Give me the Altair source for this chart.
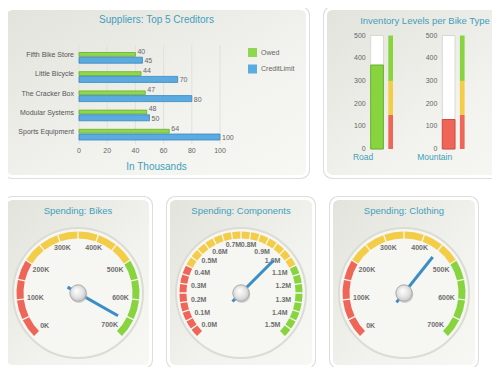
import altair as alt
import numpy as np
import pandas as pd

# ---------------- data ----------------
suppliers = ["Fifth Bike Store", "Little Bicycle", "The Cracker Box", "Modular Systems", "Sports Equipment"]
owed = [40, 44, 47, 48, 64]
credit_limit = [45, 70, 80, 50, 100]
supplier_ticks = [0, 20, 40, 60, 80, 100]

bike_types = ["Road", "Mountain", "Touring"]
inventory = [370, 130, 240]
inventory_bounds = [0, 150, 300, 500]
inventory_ticks = [0, 100, 200, 300, 400, 500]

bikes_ticks = [0, 100, 200, 300, 400, 500, 600, 700]
bikes_labels = ["0K", "100K", "200K", "300K", "400K", "500K", "600K", "700K"]
bikes_bounds = [0, 200, 500, 700]
bikes_value = 660

comp_ticks = [0.0, 0.1, 0.2, 0.3, 0.4, 0.5, 0.6, 0.7, 0.8, 0.9, 1.0, 1.1, 1.2, 1.3, 1.4, 1.5]
comp_labels = ["0.0M", "0.1M", "0.2M", "0.3M", "0.4M", "0.5M", "0.6M", "0.7M",
               "0.8M", "0.9M", "1.0M", "1.1M", "1.2M", "1.3M", "1.4M", "1.5M"]
comp_bounds = [0.0, 0.4, 1.1, 1.5]
comp_value = 1.0

cloth_ticks = [0, 100, 200, 300, 400, 500, 600, 700]
cloth_labels = ["0K", "100K", "200K", "300K", "400K", "500K", "600K", "700K"]
cloth_bounds = [0, 200, 500, 700]
cloth_value = 450

# ---------------- style ----------------
FONT = "Liberation Sans"
TEAL = "#3f9fbb"
TXT = "#666666"
RED, YEL, GRN = "#ef6658", "#f4cd48", "#88d43e"
STATUS = ["low", "mid", "high"]
VIEW_W, VIEW_H = 484, 359   # page is 500x375 with an 8px margin

one = pd.DataFrame({"k": [0]})


def panel_bg(ox, oy, w, h):
    shadow = alt.Chart(one).mark_rect(cornerRadius=9, color="#dedede").encode(
        x=alt.value(ox - 1), x2=alt.value(ox + w + 1), y=alt.value(oy - 1), y2=alt.value(oy + h + 1))
    body = alt.Chart(one).mark_rect(
        cornerRadius=7,
        fill=alt.LinearGradient(
            gradient="linear",
            stops=[alt.GradientStop(color="#e3e3dd", offset=0),
                   alt.GradientStop(color="#f2f2ee", offset=0.6),
                   alt.GradientStop(color="#f7f7f3", offset=1)],
            x1=0, y1=0, x2=1, y2=1),
        stroke="white", strokeWidth=3).encode(
        x=alt.value(ox + 1.5), x2=alt.value(ox + w - 1.5),
        y=alt.value(oy + 1.5), y2=alt.value(oy + h - 1.5))
    return [shadow, body]


def title_text(txt, x, y, size=9.5):
    return alt.Chart(one).mark_text(font=FONT, fontSize=size, color=TEAL, baseline="middle").encode(
        x=alt.value(x), y=alt.value(y), text=alt.value(txt))


# ---------------- suppliers panel ----------------
def suppliers_panel(ox, oy, W=305, H=171):
    sup_df = pd.DataFrame({
        "supplier": suppliers * 2,
        "series": ["Owed"] * len(suppliers) + ["CreditLimit"] * len(suppliers),
        "value": owed + credit_limit,
    })
    tick_df = pd.DataFrame({"t": supplier_ticks})
    xs = alt.Scale(domain=[0, 100], range=[ox + 75, ox + 216], nice=False, zero=False)
    ys = alt.Scale(domain=suppliers, range=[oy + 40, oy + 136], paddingInner=0, paddingOuter=0)
    col = alt.Scale(domain=["Owed", "CreditLimit"], range=["#8fd84e", "#5aabe1"])
    leg = alt.Legend(orient="none", legendX=ox + 244, legendY=oy + 41, title=None, symbolType="square",
                     symbolSize=81, symbolStrokeWidth=0, labelFontSize=7, labelColor=TXT,
                     labelFont=FONT, rowPadding=7.5, labelOffset=4)
    X = alt.X("value:Q", scale=xs, axis=None)
    Y = alt.Y("supplier:N", scale=ys, axis=None)

    grid = alt.Chart(tick_df).mark_rule(color="#e1e1dc", strokeWidth=1).encode(
        x=alt.X("t:Q", scale=xs, axis=None), y=alt.value(oy + 38), y2=alt.value(oy + 137))
    tick_lbl = alt.Chart(tick_df).mark_text(font=FONT, fontSize=7, color=TXT, baseline="middle").encode(
        x=alt.X("t:Q", scale=xs, axis=None), y=alt.value(oy + 144), text="t:Q")
    cat_lbl = alt.Chart(pd.DataFrame({"supplier": suppliers})).mark_text(
        font=FONT, fontSize=7, color="#555555", align="right", baseline="middle", dy=-1.5).encode(
        x=alt.value(ox + 70), y=Y, text="supplier:N")
    bars_owed = alt.Chart(sup_df).transform_filter("datum.series == 'Owed'").mark_bar(
        size=3.8, yOffset=-2.2, stroke="#66ad2c", strokeWidth=0.8).encode(
        x=X, y=Y, color=alt.Color("series:N", scale=col, legend=leg))
    bars_limit = alt.Chart(sup_df).transform_filter("datum.series == 'CreditLimit'").mark_bar(
        size=6, yOffset=3.6, stroke="#3a85bd", strokeWidth=0.8).encode(
        x=X, y=Y, color=alt.Color("series:N", scale=col, legend=leg))
    lbl_owed = alt.Chart(sup_df).transform_filter("datum.series == 'Owed'").mark_text(
        font=FONT, fontSize=7, color=TXT, align="left", baseline="middle", dx=2, dy=-4.8).encode(
        x=X, y=Y, text="value:Q")
    lbl_limit = alt.Chart(sup_df).transform_filter("datum.series == 'CreditLimit'").mark_text(
        font=FONT, fontSize=7, color=TXT, align="left", baseline="middle", dx=2, dy=4.5).encode(
        x=X, y=Y, text="value:Q")
    return alt.layer(
        *panel_bg(ox, oy, W, H), grid, tick_lbl, cat_lbl, bars_owed, bars_limit, lbl_owed, lbl_limit,
        title_text("Suppliers: Top 5 Creditors", ox + W / 2, oy + 12.5, 10),
        title_text("In Thousands", ox + W / 2, oy + 159.5, 10),
    )


# ---------------- inventory panel ----------------
def inventory_panel(ox, oy, W=220, H=171):
    b0, b1, b2, b3 = inventory_bounds
    status_expr = f"datum.value < {b1} ? 'low' : (datum.value < {b2} ? 'mid' : 'high')"
    inv_df = pd.DataFrame({"bike": bike_types, "value": inventory})
    frame_df = pd.DataFrame({"bike": bike_types, "lo": [b0] * 3, "hi": [b3] * 3})
    rng_df = pd.DataFrame({
        "bike": [b for b in bike_types for _ in range(3)],
        "lo": [b0, b1, b2] * 3, "hi": [b1, b2, b3] * 3, "status": STATUS * 3})
    axis_df = pd.DataFrame({
        "bike": [b for b in bike_types for _ in inventory_ticks],
        "t": inventory_ticks * len(bike_types)})
    xb = alt.Scale(domain=bike_types, range=[ox + 17.25, ox + 232.05], paddingInner=0, paddingOuter=0)
    yi = alt.Scale(domain=[0, 500], range=[oy + 142, oy + 28.5], nice=False, zero=False)
    cs = alt.Scale(domain=STATUS, range=[RED, YEL, GRN])
    cs_dark = alt.Scale(domain=STATUS, range=["#cf4c40", "#d6ad2c", "#67b02e"])
    X = alt.X("bike:N", scale=xb, axis=None)

    frame = alt.Chart(frame_df).mark_bar(size=12.7, fill="white", stroke="#d9d9d4", strokeWidth=1).encode(
        x=X, y=alt.Y("hi:Q", scale=yi, axis=None), y2="lo:Q")
    fill_bar = alt.Chart(inv_df).transform_calculate(status=status_expr).mark_bar(
        size=12.7, strokeWidth=1).encode(
        x=X, y=alt.Y("value:Q", scale=yi, axis=None),
        color=alt.Color("status:N", scale=cs, legend=None),
        stroke=alt.Stroke("status:N", scale=cs_dark, legend=None))
    ranges_bar = alt.Chart(rng_df).mark_bar(size=4.7, xOffset=13.6).encode(
        x=X, y=alt.Y("hi:Q", scale=yi, axis=None), y2="lo:Q",
        color=alt.Color("status:N", scale=cs, legend=None))
    inv_axis = alt.Chart(axis_df).mark_text(font=FONT, fontSize=7, color=TXT, align="right",
                                             baseline="middle", dx=-11.3).encode(
        x=X, y=alt.Y("t:Q", scale=yi, axis=None), text="t:Q")
    inv_names = alt.Chart(inv_df).mark_text(font=FONT, fontSize=8.5, color=TEAL,
                                             baseline="middle", dx=-14).encode(
        x=X, y=alt.value(oy + 150), text="bike:N")
    return alt.layer(
        *panel_bg(ox, oy, W, H), frame, fill_bar, ranges_bar, inv_axis, inv_names,
        # title kept fully inside the visible page
        title_text("Inventory Levels per Bike Type", ox + W / 2 - 9, oy + 14),
    )


# ---------------- gauges ----------------
GW, GH, GCX, GCY = 148, 171, 74, 96


def gauge(ox, oy, title, ticks, labels, bounds, value, step):
    maxv = ticks[-1]
    cs = alt.Scale(domain=STATUS, range=[RED, YEL, GRN])
    xs = alt.Scale(domain=[-GCX, GW - GCX], range=[ox, ox + GW], nice=False, zero=False)
    ys = alt.Scale(domain=[GCY - GH, GCY], range=[oy + GH, oy], nice=False, zero=False)
    th = alt.Scale(domain=[0, maxv], range=[-3 * np.pi / 4, 3 * np.pi / 4], nice=False, zero=False)
    X = lambda f: alt.X(f, scale=xs, axis=None)
    Y = lambda f: alt.Y(f, scale=ys, axis=None)

    n = int(round(maxv / step))
    starts = [round(i * step, 6) for i in range(n)]
    ends = [round((i + 1) * step, 6) for i in range(n)]
    status = [STATUS[0] if s < bounds[1] - 1e-9 else (STATUS[1] if s < bounds[2] - 1e-9 else STATUS[2])
              for s in starts]
    seg_df = pd.DataFrame({"start": starts, "end": ends, "status": status})
    lab_df = pd.DataFrame({"v": ticks, "label": labels})
    val_df = pd.DataFrame({"v": [value]})
    ang = f"(-135 + 270 * datum.v / {maxv}) * PI / 180"

    face = alt.Chart(one).transform_calculate(cx="0", cy="0").mark_arc(
        radius=65, theta=0, theta2=2 * np.pi, fill="#f6f6f2", stroke="#dcdcd6", strokeWidth=2).encode(
        x=X("cx:Q"), y=Y("cy:Q"))
    band = alt.Chart(seg_df).transform_calculate(cx="0", cy="0").mark_arc(
        radius=61.5, radius2=54.5, padAngle=0.016).encode(
        theta=alt.Theta("start:Q", scale=th, stack=None), theta2="end:Q",
        color=alt.Color("status:N", scale=cs, legend=None),
        x=X("cx:Q"), y=Y("cy:Q"))
    lab = alt.Chart(lab_df).transform_calculate(
        a=ang, w="4.2 * length(datum.label)",
        r="49.5 - 0.8 * abs(sin(datum.a)) * datum.w / 2",
        lx="datum.r * sin(datum.a)", ly="datum.r * cos(datum.a)").mark_text(
        font=FONT, fontSize=7, fontWeight="bold", color="#6e6e6e", baseline="middle").encode(
        x=X("lx:Q"), y=Y("ly:Q"), text="label:N")
    needle = alt.Chart(val_df).transform_calculate(
        a=ang, tx="46 * sin(datum.a)", ty="46 * cos(datum.a)",
        bx="-12 * sin(datum.a)", by="-12 * cos(datum.a)").mark_rule(
        strokeWidth=3, color="#3b8dc8").encode(
        x=X("bx:Q"), y=Y("by:Q"), x2="tx:Q", y2="ty:Q")
    cap_shadow = alt.Chart(one).transform_calculate(cx="0.8", cy="-1.6").mark_circle(
        size=290, color="#b4b4b0", opacity=0.6).encode(x=X("cx:Q"), y=Y("cy:Q"))
    cap = alt.Chart(one).transform_calculate(cx="0", cy="0").mark_circle(
        size=272, opacity=1, stroke="#a2a2a2", strokeWidth=0.8,
        fill=alt.RadialGradient(
            gradient="radial",
            stops=[alt.GradientStop(color="#ffffff", offset=0),
                   alt.GradientStop(color="#e4e4e4", offset=0.55),
                   alt.GradientStop(color="#bcbcbc", offset=1)],
            x1=0.4, y1=0.35, r1=0, x2=0.5, y2=0.5, r2=0.6)).encode(x=X("cx:Q"), y=Y("cy:Q"))
    return alt.layer(
        *panel_bg(ox, oy, GW, GH), face, band, lab, needle, cap_shadow, cap,
        title_text(title, ox + GW / 2, oy + 13.7),
    )


# panel origins in the plot's pixel space (page coordinates minus the 8px margin)
TOP_Y, BOT_Y = -1, 189
panels = [
    suppliers_panel(-4, TOP_Y),
    inventory_panel(316, TOP_Y),
    gauge(-4, BOT_Y, "Spending: Bikes", bikes_ticks, bikes_labels, bikes_bounds, bikes_value, 50),
    gauge(159, BOT_Y, "Spending: Components", comp_ticks, comp_labels, comp_bounds, comp_value, 0.05),
    gauge(322, BOT_Y, "Spending: Clothing", cloth_ticks, cloth_labels, cloth_bounds, cloth_value, 50),
]

RES = dict(x="independent", y="independent", color="independent", stroke="independent", theta="independent")
chart = alt.layer(*panels).resolve_scale(**RES).properties(
    width=VIEW_W, height=VIEW_H, padding=0, background="white",
    autosize=alt.AutoSizeParams(type="none"),
).configure_view(stroke=None)

chart.save("out.html", embed_options={"renderer": "svg", "actions": False})
